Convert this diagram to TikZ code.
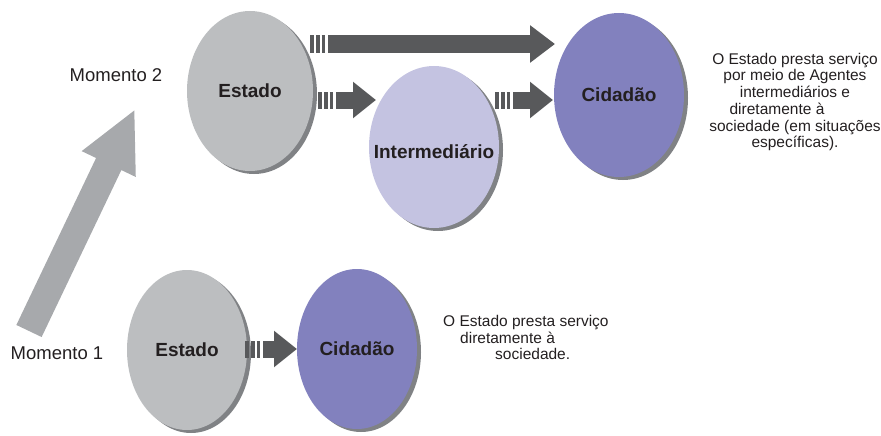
\documentclass[tikz,border=0pt]{standalone}
\usepackage{fontspec}
\setmainfont{Liberation Sans}
\usetikzlibrary{arrows.meta,shapes.geometric,shadows}
\definecolor{estgray}{HTML}{BCBEC0}
\definecolor{intlav}{HTML}{C4C3E1}
\definecolor{cidpur}{HTML}{8281BE}
\definecolor{shgray}{HTML}{808285}
\definecolor{darkarr}{HTML}{58595B}
\definecolor{bigarr}{HTML}{A7A9AC}
\definecolor{txt}{HTML}{231F20}
\begin{document}
\begin{tikzpicture}[x=1pt,y=-1pt,
  bubble/.style={ellipse, inner sep=0pt, text=txt,
    font=\fontsize{19}{22}\selectfont\bfseries,
    drop shadow={shadow xshift=4pt,shadow yshift=-3pt,fill=shgray,opacity=1}},
  bubtxt/.style={inner sep=0pt, text=txt, font=\fontsize{19}{22}\selectfont\bfseries},
  flow/.style={draw=darkarr, line width=17pt,
    dash pattern=on 4pt off 2pt on 3.5pt off 2pt on 3.5pt off 3pt on 600pt,
    -{Triangle[length=23pt,width=35pt]}},
  momtxt/.style={inner sep=0pt, text=txt, font=\fontsize{18.5}{22}\selectfont},
  desc/.style={inner sep=0pt, text=txt, font=\fontsize{15.5}{16.7}\selectfont}]
\useasboundingbox (0,0) rectangle (881,436);

% Momento 2
\node[bubble, fill=estgray, minimum width=126pt, minimum height=160pt] (est2) at (250,91) {Estado};
\node[bubble, fill=intlav, minimum width=130pt, minimum height=162pt] (int2) at (434,147) {};
\node[bubtxt] (int2t) at ([yshift=-5pt]int2.center) {Intermediário};
\node[bubble, fill=cidpur, minimum width=130pt, minimum height=164pt] (cid2) at (619,95) {Cidadão};

% Momento 1
\node[bubble, fill=estgray, minimum width=120pt, minimum height=160pt] (est1) at (187,350) {Estado};
\node[bubble, fill=cidpur, minimum width=120pt, minimum height=160pt] (cid1) at (357,349) {Cidadão};

% arrow end points
\coordinate (a1s) at (310,44);
\coordinate (a1e) at (555,44);
\coordinate (a2s) at (318,100);
\coordinate (a2e) at (376,100);
\coordinate (a3s) at (495,100);
\coordinate (a3e) at (553,100);
\coordinate (a4s) at (245,349);
\coordinate (a4e) at (297,349);
\coordinate (bigs) at (29,331);
\coordinate (bige) at (135,109);

\draw[flow, line width=18pt, -{Triangle[length=25pt,width=36pt]}] (a1s) -- (a1e);
\draw[flow] (a2s) -- (a2e);
\draw[flow] (a3s) -- (a3e);
\draw[flow] (a4s) -- (a4e);

\draw[draw=bigarr, line width=28pt, -{Triangle[length=61pt,width=55pt]}] (bigs) -- (bige);

% labels
\node[momtxt] (m2) at (116,75) {Momento 2};
\node[momtxt] (m1) at (57,353) {Momento 1};

\node[desc, align=center] (d2) at (795,102) {O Estado presta serviço\\por meio de Agentes\\intermediários e\\diretamente à\hspace*{36pt}\mbox{}\\sociedade (em situações\\específicas).};
\node[desc, align=left, anchor=north west] (d1) at (443,315) {O Estado presta serviço\\\hspace*{17pt}diretamente à\\\hspace*{52pt}sociedade.};
\end{tikzpicture}
\end{document}
